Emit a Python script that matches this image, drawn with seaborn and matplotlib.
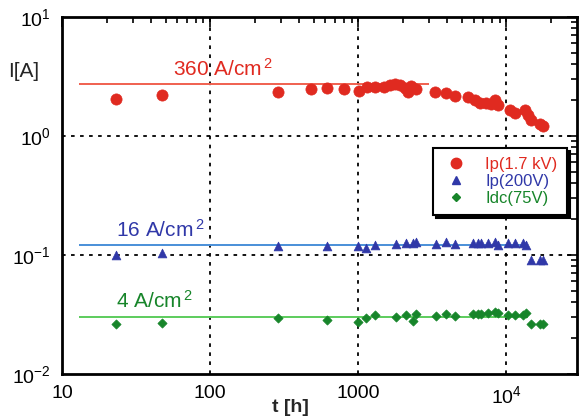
import numpy as np
import pandas as pd
import matplotlib
matplotlib.use("Agg")
import matplotlib.pyplot as plt
from matplotlib.ticker import FixedLocator, FixedFormatter, LogLocator, NullFormatter
from matplotlib.lines import Line2D
import seaborn as sns

# --- measurement data: time [h] and current [A] ---
t_hv = [23, 47, 285, 483, 618, 805, 1016, 1150, 1301, 1496, 1641, 1774, 1918,
        2071, 2172, 2275, 2459, 3304, 3917, 4500, 5505, 6138, 6633, 7277, 7865,
        8368, 8770, 10560, 11410, 13330, 13960, 14620, 16820, 17620]
i_hv = [2.05, 2.21, 2.34, 2.48, 2.53, 2.48, 2.39, 2.58, 2.58, 2.58, 2.69, 2.74, 2.69,
        2.53, 2.34, 2.63, 2.48, 2.34, 2.30, 2.17, 2.13, 2.01, 1.89, 1.89, 1.86,
        2.01, 1.82, 1.65, 1.56, 1.65, 1.50, 1.36, 1.26, 1.21]

t_mv = [23, 47, 285, 618, 1000, 1132, 1301, 1802, 2105, 2344, 2459, 3350, 3917,
        4500, 5942, 6425, 6730, 7500, 8368, 8770, 10240, 11410, 12910, 13520,
        14620, 16820, 17620]
i_mv = [0.100, 0.104, 0.119, 0.119, 0.119, 0.115, 0.121, 0.124, 0.126, 0.126, 0.129,
        0.124, 0.129, 0.124, 0.126, 0.126, 0.126, 0.126, 0.129, 0.121, 0.126,
        0.126, 0.126, 0.121, 0.091, 0.091, 0.091]

t_dc = [23, 47, 285, 618, 1000, 1132, 1301, 1802, 2105, 2344, 2459, 3350, 3917,
        4500, 5942, 6425, 6730, 7500, 8368, 8770, 10240, 11410, 12910, 13520,
        14620, 16820, 17620]
i_dc = [0.0263, 0.0268, 0.0295, 0.0284, 0.0274, 0.0296, 0.0313, 0.0301, 0.0313,
        0.0279, 0.0319, 0.0307, 0.0319, 0.0307, 0.0319, 0.0319, 0.0319, 0.0326,
        0.0332, 0.0326, 0.0313, 0.0313, 0.0313, 0.0326, 0.0263, 0.0263, 0.0263]

series_names = ["Ip(1.7 kV)", "Ip(200V)", "Idc(75V)"]

# reference current levels (initial value per current density)
density_labels = ["360 A/cm", "16 A/cm", "4 A/cm"]
level_values = [2.75, 0.12, 0.030]
level_t_start = [13, 13, 13]
level_t_end = [3000, 14000, 14000]

x_ticks = [10, 100, 1000, 10000]
x_tick_labels = ["10", "100", "1000", r"$\mathregular{10^4}$"]
y_ticks = [0.01, 0.1, 1, 10]
y_tick_labels = [r"$\mathregular{10^{-2}}$", r"$\mathregular{10^{-1}}$",
                 r"$\mathregular{10^{0}}$", r"$\mathregular{10^{1}}$"]

df = pd.concat([
    pd.DataFrame({"t": t_hv, "I": i_hv, "series": series_names[0]}),
    pd.DataFrame({"t": t_mv, "I": i_mv, "series": series_names[1]}),
    pd.DataFrame({"t": t_dc, "I": i_dc, "series": series_names[2]}),
], ignore_index=True)

sns.set_style("white")
plt.rcParams["font.family"] = ["Liberation Sans", "DejaVu Sans"]
plt.rcParams["mathtext.fontset"] = "custom"
plt.rcParams["mathtext.rm"] = "Liberation Sans"

marker_colors = ["#e02a20", "#3038a8", "#17852a"]
line_colors = ["#f0604f", "#4a8fd8", "#5ccc5c"]
markers = ["o", "^", "D"]
sizes = [65, 40, 22]

fig = plt.figure(figsize=(5.8, 4.2), dpi=100)
ax = fig.add_axes([0.107, 0.110, 0.888, 0.850])

for lvl, t0, t1, c in zip(level_values, level_t_start, level_t_end, line_colors):
    ax.hlines(lvl, t0, t1, color=c, lw=1.4, zorder=2)

for name, col, mk, sz in zip(series_names, marker_colors, markers, sizes):
    sub = df[df["series"] == name]
    sns.scatterplot(data=sub, x="t", y="I", ax=ax, color=col, marker=mk,
                    s=sz, edgecolor=col, linewidth=0.5, zorder=3, legend=False)

ax.set_xscale("log")
ax.set_yscale("log")
ax.set_xlim(10, 3e4)
ax.set_ylim(1e-2, 1e1)

# dotted grid at the decades
for xv in x_ticks[1:]:
    ax.axvline(xv, color="black", ls=(0, (2, 3)), lw=1.3, zorder=1)
for yv in y_ticks[1:-1]:
    ax.axhline(yv, color="black", ls=(0, (2, 3)), lw=1.3, zorder=1)

ax.xaxis.set_major_locator(FixedLocator(x_ticks))
ax.xaxis.set_major_formatter(FixedFormatter(x_tick_labels))
ax.yaxis.set_major_locator(FixedLocator(y_ticks))
ax.yaxis.set_major_formatter(FixedFormatter(y_tick_labels))
ax.xaxis.set_minor_locator(LogLocator(base=10, subs=np.arange(2, 10)))
ax.yaxis.set_minor_locator(LogLocator(base=10, subs=np.arange(2, 10)))
ax.xaxis.set_minor_formatter(NullFormatter())
ax.yaxis.set_minor_formatter(NullFormatter())

ax.tick_params(which="both", direction="in", top=True, right=True,
               width=1.2, labelsize=14, colors="black")
ax.tick_params(which="major", length=7, pad=8)
ax.tick_params(which="minor", length=4)
for s in ax.spines.values():
    s.set_linewidth(2)
    s.set_color("black")

ax.set_xlabel("t [h]", fontsize=14, fontweight="bold")
ax.xaxis.label.set_va("center")
ax.xaxis.set_label_coords(0.443, -0.094)
ax.set_ylabel("")
fig.text(0.040, 0.83, "I[A]", fontsize=15, ha="center", va="center")

# current-density annotations
text_pos_t = [56, 23, 23]
text_pos_i = [2.95, 0.132, 0.033]
for lab, tx, ty, c in zip(density_labels, text_pos_t, text_pos_i, marker_colors):
    ax.text(tx, ty, lab + r"$\mathregular{^{\,2}}$", color=c,
            fontsize=15, ha="left", va="bottom")

handles = [Line2D([], [], ls="none", marker=mk, color=col, markersize=ms)
           for mk, col, ms in zip(markers, marker_colors, [7.5, 6, 4.5])]
leg = ax.legend(handles, series_names, loc="upper right",
                bbox_to_anchor=(0.98, 0.633), borderaxespad=0.0,
                frameon=True, fancybox=False,
                shadow={"color": "black", "alpha": 1.0}, fontsize=12,
                handletextpad=0.9, borderpad=0.55, labelspacing=0.12,
                handlelength=1.7)
leg.get_frame().set_edgecolor("black")
leg.get_frame().set_linewidth(1.5)
for txt, col in zip(leg.get_texts(), marker_colors):
    txt.set_color(col)

fig.savefig("out.png", dpi=100)
